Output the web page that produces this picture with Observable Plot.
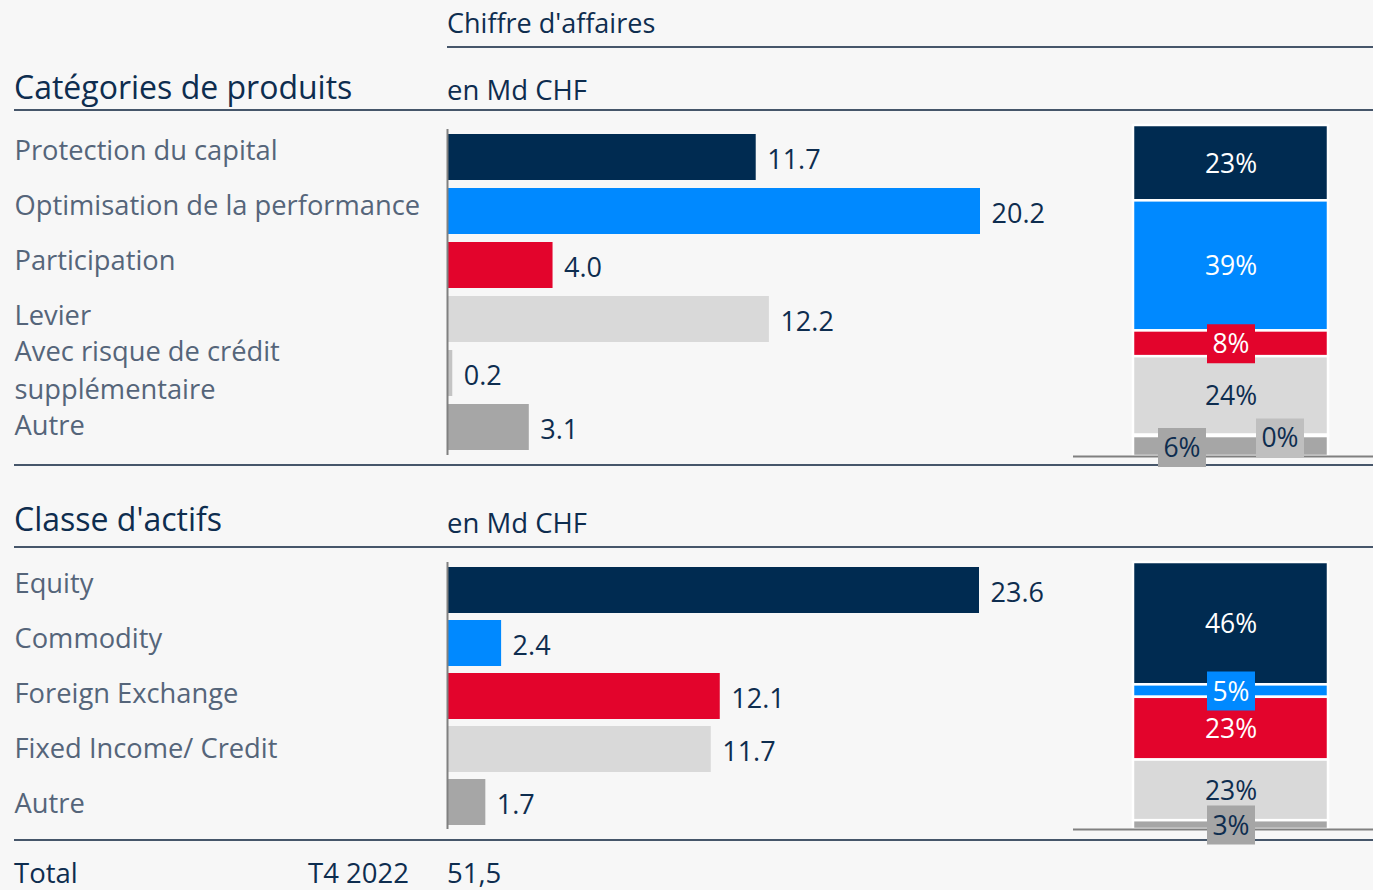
<!DOCTYPE html>
<html><head><meta charset="utf-8">
<script src="https://cdn.jsdelivr.net/npm/d3@7"></script>
<script src="https://cdn.jsdelivr.net/npm/@observablehq/plot@0.6"></script>
<style>
html,body{margin:0;padding:0;background:#f7f7f7;}
#chart{position:relative;width:1373px;height:890px;overflow:hidden;background:#f7f7f7;font-family:"Open Sans",sans-serif;color:#0e2d4f;}
.t{position:absolute;white-space:nowrap;line-height:1;}
.ln{position:absolute;height:0;border-top:2px solid #46566a;}
#chart svg{position:absolute;left:0;top:0;}
</style></head><body><div id="chart"></div>
<script>
// ---- data ----
const productCategories = ["Protection du capital","Optimisation de la performance","Participation","Levier","Avec risque de crédit\nsupplémentaire","Autre"];
const productValues = [11.7, 20.2, 4.0, 12.2, 0.2, 3.1];
const productShares = [23, 39, 8, 24, 0, 6];
const assetClasses = ["Equity","Commodity","Foreign Exchange","Fixed Income/ Credit","Autre"];
const assetValues = [23.6, 2.4, 12.1, 11.7, 1.7];
const assetShares = [46, 5, 23, 23, 3];
const productColors = ["#002b51","#0089ff","#e3042c","#d9d9d9","#c4c4c4","#a6a6a6"];
const assetColors = ["#002b51","#0089ff","#e3042c","#d9d9d9","#a6a6a6"];
const headerTitle = "Chiffre d'affaires";
const unitLabel = "en Md CHF";
const section1Title = "Catégories de produits";
const section2Title = "Classe d'actifs";
const totalLabel = "Total", periodLabel = "T4 2022", totalValue = "51,5";

const NAVY = "#0e2d4f", LABEL = "#55657a";
const isDark = c => ["#002b51","#0089ff","#e3042c"].includes(c);

const productRows = productCategories.map((c,i)=>({cat:c, value:productValues[i], share:productShares[i], color:productColors[i], idx:i}));
const assetRows = assetClasses.map((c,i)=>({cat:c, value:assetValues[i], share:assetShares[i], color:assetColors[i], idx:i}));

const chart = document.getElementById("chart");
function addText(txt, left, top, size, color){
  const d=document.createElement("div"); d.className="t"; d.textContent=txt;
  Object.assign(d.style,{left:left+"px",top:top+"px",fontSize:size+"px",color:color||NAVY});
  chart.appendChild(d);
}
function addLine(left, top, width, color){
  const d=document.createElement("div"); d.className="ln";
  Object.assign(d.style,{left:left+"px",top:top+"px",width:width+"px"});
  if(color) d.style.borderTopColor=color;
  chart.appendChild(d);
}

// headers & dividers
addText(headerTitle, 447, 9, 27);
addLine(447, 46, 926);
addText(section1Title, 14, 71, 32);
addText(unitLabel, 447, 76, 27.5);
addLine(14, 109, 1359);
addLine(14, 464, 1359);
addText(section2Title, 14, 503, 32);
addText(unitLabel, 447, 509, 27.5);
addLine(14, 546, 1359);
addLine(14, 839, 1359);
addText(totalLabel, 14, 859, 27.5);
addText(periodLabel, 308, 859, 27.5);
addText(totalValue, 447, 859, 27.5);

const baseStyle = {background:"transparent", fontFamily:"Open Sans", fontSize:"26px", overflow:"visible"};

function barPlot(rows, top, bottom, xmax, xend, pInner, pOuter){
  return Plot.plot({
    width:1373, height:890, marginLeft:447, marginRight:0, marginTop:top, marginBottom:890-bottom,
    style: baseStyle,
    x:{domain:[0,xmax], range:[447,xend], axis:null},
    y:{domain:rows.map(d=>d.cat), paddingInner:pInner, paddingOuter:pOuter, axis:null},
    color:{type:"identity"},
    marks:[
      Plot.barX(rows,{x:"value", y:"cat", fill:"color"}),
      Plot.ruleX([0],{stroke:"#808080", strokeWidth:2}),
      Plot.text(rows,{x:"value", y:"cat", text:d=>d.value.toFixed(1), dx:11, dy:3, textAnchor:"start", fill:NAVY, fontSize:27})
    ]
  });
}

// category labels on the left, on their own evenly spaced point scale
function labelPlot(rows, first, last){
  return Plot.plot({
    width:1373, height:890, margin:0,
    style: baseStyle,
    x:{domain:[0,1], range:[14,400], axis:null},
    y:{type:"point", domain:rows.map(d=>d.cat), range:[first,last], padding:0, round:false, axis:null},
    marks:[
      Plot.text(rows,{x:0, y:"cat", text:"cat", textAnchor:"start", fill:LABEL, fontSize:27.3, lineHeight:1.4})
    ]
  });
}

const boxSymbol = {draw(ctx){ ctx.rect(-24,-19.5,48,39); }};

function stackPlot(rows, top, bottom, shifts){
  const total = d3.sum(rows, d=>d.value);
  const X = ()=>"T";
  const label = d => d.share + "%";
  const lab = (cond) => d => cond(d) ? label(d) : null;
  const marks = [
    Plot.barY(rows, Plot.stackY({x:X, y:"value", fill:"color", stroke:"white", strokeWidth:2.5, reverse:true})),
    Plot.ruleY([0],{stroke:"#808080", strokeWidth:2})
  ];
  for(const s of shifts){
    marks.push(Plot.dot(rows, Plot.stackY({x:X, y:"value", reverse:true, symbol:boxSymbol, r:10,
      fill: d => (d.share < 10 && s.match(d)) ? (d.share===0 ? "#bfbfbf" : d.color) : "none", stroke:"none", dx:s.dx, dy:s.dy})));
    marks.push(Plot.text(rows, Plot.stackY({x:X, y:"value", reverse:true, text:lab(s.match),
      fill: d => isDark(d.color) ? "white" : NAVY, fontSize:26.5, dx:s.dx, dy:s.dy+1})));
  }
  return Plot.plot({
    width:1373, height:890, marginLeft:1073, marginRight:0, marginTop:top, marginBottom:890-bottom,
    style: baseStyle,
    x:{type:"band", domain:["T"], range:[1133,1328], padding:0, axis:null},
    y:{domain:[0,total], axis:null},
    color:{type:"identity"},
    marks
  });
}

chart.appendChild(barPlot(productRows, 129, 455, 20.2, 980, 0.14, 0.055));
chart.appendChild(barPlot(assetRows, 562, 829, 23.6, 979, 0.14, 0.05));
chart.appendChild(labelPlot(productRows, 147, 422));
chart.appendChild(labelPlot(assetRows, 580, 800));
chart.appendChild(stackPlot(productRows, 125, 456, [
  {match:d=>d.idx<4, dx:0, dy:0},
  {match:d=>d.idx===4, dx:49, dy:2},
  {match:d=>d.idx===5, dx:-49, dy:1}
]));
chart.appendChild(stackPlot(assetRows, 562, 829, [
  {match:d=>true, dx:0, dy:0}
]));
</script></body></html>
